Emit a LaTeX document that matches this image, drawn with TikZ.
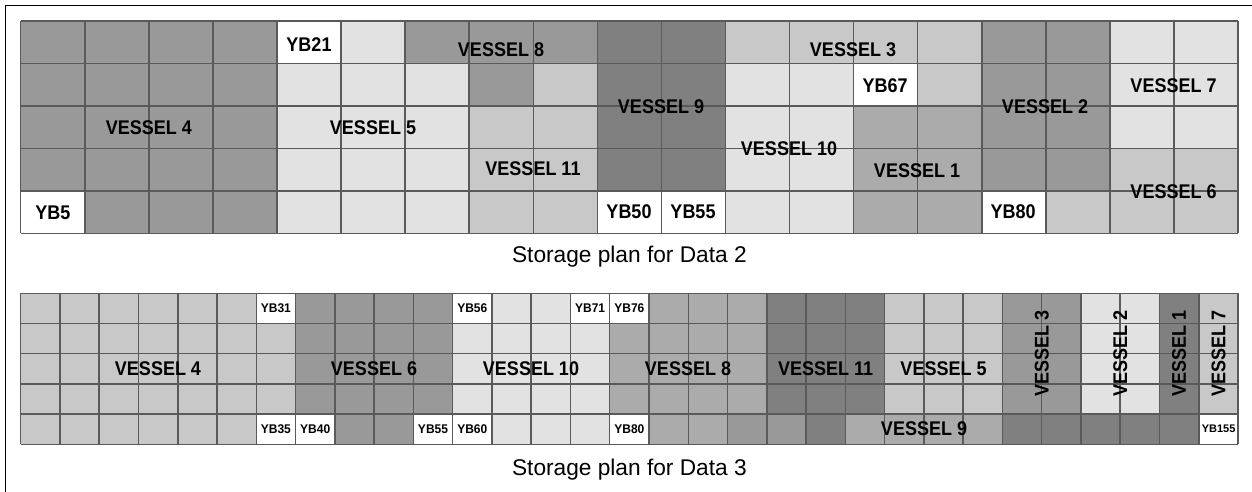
\documentclass[tikz,border=0pt]{standalone}
\usepackage{fontspec}
\setmainfont{Liberation Sans}
\definecolor{cW}{HTML}{FFFFFF}
\definecolor{cL}{HTML}{E2E2E2}
\definecolor{cM}{HTML}{C8C8C8}
\definecolor{cA}{HTML}{ABABAB}
\definecolor{cD}{HTML}{999999}
\definecolor{cK}{HTML}{808080}
\definecolor{gridc}{HTML}{5A5A5A}
\begin{document}
\begin{tikzpicture}[x=1pt,y=-1pt,
  gridline/.style={draw=gridc,line width=1.5pt},
  frameline/.style={draw=black,line width=1.6pt},
  big/.style={font=\fontsize{18}{18}\selectfont\bfseries,inner sep=0pt,yscale=1.1},
  small/.style={font=\fontsize{12}{12}\selectfont\bfseries,inner sep=0pt,yscale=1.05},
  tiny/.style={font=\fontsize{11}{11}\selectfont\bfseries,inner sep=0pt},
  caption/.style={font=\fontsize{22.7}{22.7}\selectfont,inner sep=0pt,anchor=base}]
\useasboundingbox (0,0) rectangle (1252,492);
\fill[white] (0,0) rectangle (1252,492);
\draw[frameline] (5.5,492) -- (5.5,5.5) -- (1252,5.5);
% ---------- top grid (19 x 5) ----------
\def\topx{20.7}\def\topw{64.07}\def\topy{21}\def\toph{42.46}
\foreach \cc/\ra/\rb/\rr/\rd/\re in {
  0/D/D/D/D/W, 1/D/D/D/D/D, 2/D/D/D/D/D, 3/D/D/D/D/D,
  4/W/L/L/L/L, 5/L/L/L/L/L, 6/D/L/L/L/L, 7/D/D/M/M/M,
  8/D/M/M/M/M, 9/K/K/K/K/W, 10/K/K/K/K/W, 11/M/L/L/L/L,
  12/M/L/L/L/L, 13/M/W/A/A/A, 14/M/M/A/A/A, 15/D/D/D/D/W,
  16/D/D/D/D/M, 17/L/L/L/M/M, 18/L/L/L/M/M} {
  \fill[fill=c\ra] ({\topx+\cc*\topw},{\topy+0*\toph}) rectangle ++(\topw,\toph);
  \fill[fill=c\rb] ({\topx+\cc*\topw},{\topy+1*\toph}) rectangle ++(\topw,\toph);
  \fill[fill=c\rr] ({\topx+\cc*\topw},{\topy+2*\toph}) rectangle ++(\topw,\toph);
  \fill[fill=c\rd] ({\topx+\cc*\topw},{\topy+3*\toph}) rectangle ++(\topw,\toph);
  \fill[fill=c\re] ({\topx+\cc*\topw},{\topy+4*\toph}) rectangle ++(\topw,\toph);
}
\foreach \i in {0,...,19}
  \draw[gridline] ({\topx+\i*\topw},\topy) -- ({\topx+\i*\topw},{\topy+5*\toph});
\foreach \j in {0,...,5}
  \draw[gridline] (\topx,{\topy+\j*\toph}) -- ({\topx+19*\topw},{\topy+\j*\toph});
% top labels
\node[big] (tv4) at (148.8,127.5) {VESSEL 4};
\node[big] (tv5) at (373,127.5) {VESSEL 5};
\node[big] (tv8) at (501,49.5) {VESSEL 8};
\node[big] (tv9) at (661,106.5) {VESSEL 9};
\node[big] (tv11) at (533,168.5) {VESSEL 11};
\node[big] (tv10) at (789,149) {VESSEL 10};
\node[big] (tv3) at (853,49.5) {VESSEL 3};
\node[big] (tv1) at (917,170.5) {VESSEL 1};
\node[big] (tv2) at (1045,107) {VESSEL 2};
\node[big] (tv7) at (1173.5,85.5) {VESSEL 7};
\node[big] (tv6) at (1173.5,192) {VESSEL 6};
\node[big] (tyb21) at (309,45) {YB21};
\node[big] (tyb5) at (53,212.5) {YB5};
\node[big] (tyb50) at (629,212) {YB50};
\node[big] (tyb55) at (693,212) {YB55};
\node[big] (tyb67) at (885,85.5) {YB67};
\node[big] (tyb80) at (1013,212) {YB80};
\node[caption] (cap2) at (629.4,262) {Storage plan for Data 2};
% ---------- bottom grid (31 x 5) ----------
\def\botx{20.7}\def\botw{39.268}\def\boty{293.3}\def\both{30.2}
\foreach \cc/\ra/\rb/\rr/\rd/\re in {
  0/M/M/M/M/M, 1/M/M/M/M/M, 2/M/M/M/M/M, 3/M/M/M/M/M, 4/M/M/M/M/M, 5/M/M/M/M/M,
  6/W/M/M/M/W, 7/D/D/D/D/W, 8/D/D/D/D/D, 9/D/D/D/D/D, 10/D/D/D/D/W,
  11/W/L/L/L/W, 12/L/L/L/L/L, 13/L/L/L/L/L, 14/W/L/L/L/L,
  15/W/A/A/A/W, 16/A/A/A/A/A, 17/A/A/A/A/A, 18/A/A/A/A/D,
  19/K/K/K/K/D, 20/K/K/K/K/K, 21/K/K/K/K/A,
  22/M/M/M/M/A, 23/M/M/M/M/A, 24/M/M/M/M/A,
  25/D/D/D/D/K, 26/D/D/D/D/K, 27/L/L/L/L/K, 28/L/L/L/L/K,
  29/K/K/K/K/K, 30/M/M/M/M/W} {
  \fill[fill=c\ra] ({\botx+\cc*\botw},{\boty+0*\both}) rectangle ++(\botw,\both);
  \fill[fill=c\rb] ({\botx+\cc*\botw},{\boty+1*\both}) rectangle ++(\botw,\both);
  \fill[fill=c\rr] ({\botx+\cc*\botw},{\boty+2*\both}) rectangle ++(\botw,\both);
  \fill[fill=c\rd] ({\botx+\cc*\botw},{\boty+3*\both}) rectangle ++(\botw,\both);
  \fill[fill=c\re] ({\botx+\cc*\botw},{\boty+4*\both}) rectangle ++(\botw,\both);
}
\foreach \i in {0,...,31}
  \draw[gridline] ({\botx+\i*\botw},\boty) -- ({\botx+\i*\botw},{\boty+5*\both});
\foreach \j in {0,...,5}
  \draw[gridline] (\botx,{\boty+\j*\both}) -- ({\botx+31*\botw},{\boty+\j*\both});
% bottom labels
\node[big] (bv4) at (158,369) {VESSEL 4};
\node[big] (bv6) at (374,369) {VESSEL 6};
\node[big] (bv10) at (531,369) {VESSEL 10};
\node[big] (bv8) at (688,369) {VESSEL 8};
\node[big] (bv11) at (825.7,369) {VESSEL 11};
\node[big] (bv5) at (943.5,369) {VESSEL 5};
\node[big] (bv9) at (924,429) {VESSEL 9};
\node[rotate=90,big] (bv3) at (1041.7,353.7) {VESSEL 3};
\node[rotate=90,big] (bv2) at (1120.3,353.7) {VESSEL 2};
\node[rotate=90,big] (bv1) at (1179,353.7) {VESSEL 1};
\node[rotate=90,big] (bv7) at (1218.6,353.7) {VESSEL 7};
\node[small] (byb31) at (275.9,308.4) {YB31};
\node[small] (byb35) at (275.9,429.2) {YB35};
\node[small] (byb40) at (315.2,429.2) {YB40};
\node[small] (byb55) at (433,429.2) {YB55};
\node[small] (byb56) at (472.3,308.4) {YB56};
\node[small] (byb60) at (472.3,429.2) {YB60};
\node[small] (byb71) at (590.1,308.4) {YB71};
\node[small] (byb76) at (629.4,308.4) {YB76};
\node[small] (byb80) at (629.4,429.2) {YB80};
\node[tiny] (byb155) at (1218.6,429.2) {YB155};
\node[caption] (cap3) at (629.4,475) {Storage plan for Data 3};
\end{tikzpicture}
\end{document}
